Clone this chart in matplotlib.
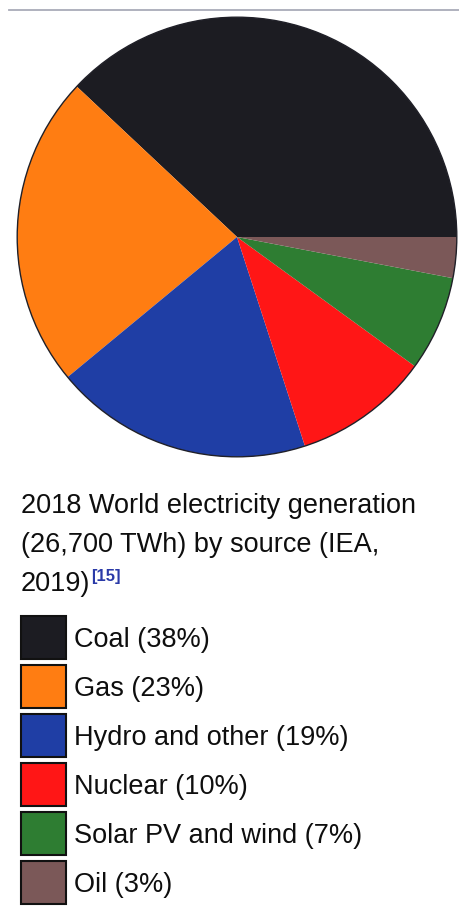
import matplotlib.pyplot as plt
from matplotlib.patches import Rectangle, Circle

# data
sources = ['Coal', 'Gas', 'Hydro and other', 'Nuclear', 'Solar PV and wind', 'Oil']
shares = [38, 23, 19, 10, 7, 3]
colors = ['#1c1c22', '#ff7d12', '#1f3ea5', '#ff1616', '#2e7d32', '#7b5858']
caption = ['2018 World electricity generation', '(26,700 TWh) by source (IEA,', '2019)']
ref = '[15]'

W, H = 460, 912
fig = plt.figure(figsize=(W / 100, H / 100), dpi=100)
plt.rcParams['font.family'] = ['Liberation Sans', 'DejaVu Sans']

# pie, centre (237, 238) radius 222 in pixels
cx, cy, r = 237, 238, 222
ax = fig.add_axes([(cx - r) / W, (H - cy - r) / H, 2 * r / W, 2 * r / H])
ax.pie(shares, colors=colors, startangle=0, counterclock=True,
       wedgeprops=dict(linewidth=0), radius=1)
ax.add_patch(Circle((0, 0), 1, fill=False, edgecolor='#202028', linewidth=1.0))
ax.set_xlim(-1.01, 1.01)
ax.set_ylim(-1.01, 1.01)
ax.set_aspect('auto')
ax.axis('off')

# overlay in pixel coordinates for caption and legend
ov = fig.add_axes([0, 0, 1, 1], zorder=-1)
ov.set_xlim(0, W)
ov.set_ylim(H, 0)
ov.axis('off')

# thin rule at the top
ov.plot([9, 459], [10.5, 10.5], color='#a9abb9', lw=1.3)

fs = 19.5
for i, line in enumerate(caption):
    t = ov.text(21, 513 + i * 39, line, fontsize=fs, color='#0e0e0e', va='baseline', ha='left')

# superscript reference right after last caption line
fig.canvas.draw()
bb = t.get_window_extent()
x_end = ov.transData.inverted().transform((bb.x1, bb.y0))[0]
ov.text(x_end + 0.5, 581, ref, fontsize=12, color='#2a3aa8', fontweight='bold',
        va='baseline', ha='left')

for i, (name, pct, c) in enumerate(zip(sources, shares, colors)):
    y0 = 617 + i * 49
    ov.add_patch(Rectangle((21.5, y0), 45, 43, facecolor=c, edgecolor='#111111', lw=1.5))
    ov.text(74, y0 + 30, f'{name} ({pct}%)', fontsize=fs, color='#0e0e0e',
            va='baseline', ha='left')

fig.savefig('out.png', dpi=100)
